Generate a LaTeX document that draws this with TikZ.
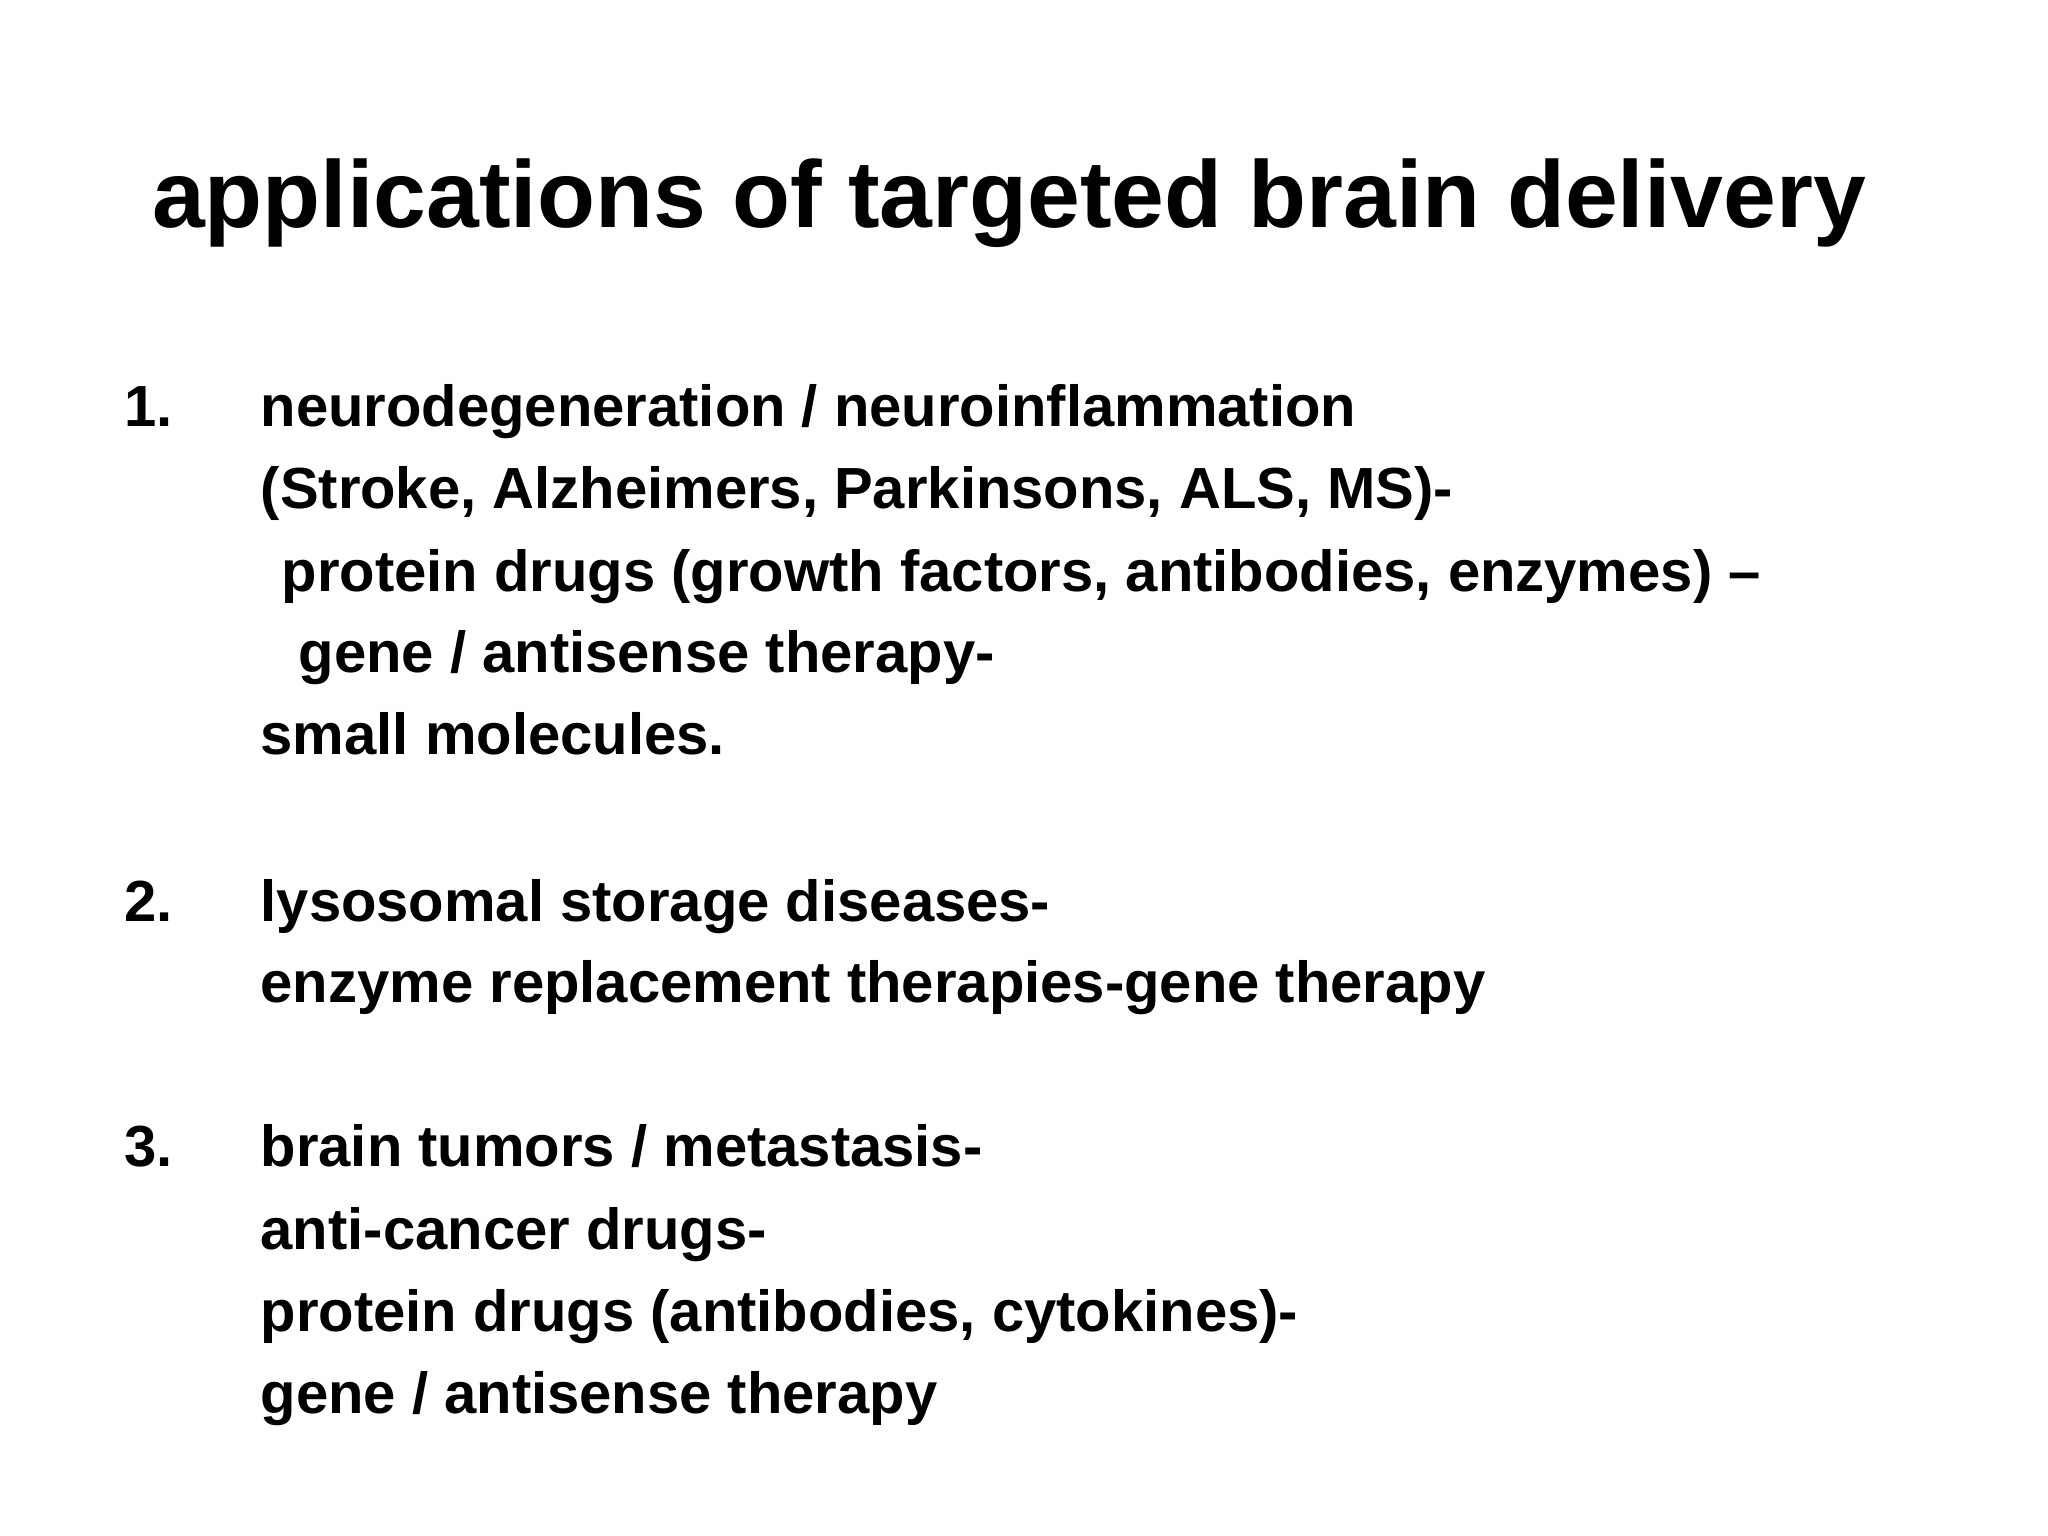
\documentclass[tikz,border=0pt]{standalone}
\usepackage{fontspec}
\setmainfont{Liberation Sans}
\begin{document}
\begin{tikzpicture}[x=1cm,y=1cm,
  ln/.style={anchor=base west,inner sep=0pt,font=\fontsize{16.5}{20}\selectfont\bfseries},
  ttl/.style={anchor=base,inner sep=0pt,font=\fontsize{27}{32}\selectfont\bfseries}]
\useasboundingbox[fill=white] (0,0) rectangle (20.48,-15.36);
\node[ttl] (t) at (10.09,-2.28) {applications of targeted brain delivery};
\node[ln] (n1) at (1.24,-4.27) {1.};
\node[ln] (a1) at (2.60,-4.27) {neurodegeneration / neuroinflammation};
\node[ln] (a2) at (2.60,-5.09) {(Stroke, Alzheimers, Parkinsons, ALS, MS)-};
\node[ln] (a3) at (2.81,-5.92) {protein drugs (growth factors, antibodies, enzymes) –};
\node[ln] (a4) at (2.98,-6.73) {gene / antisense therapy-};
\node[ln] (a5) at (2.60,-7.55) {small molecules.};
\node[ln] (n2) at (1.24,-9.21) {2.};
\node[ln] (b1) at (2.60,-9.21) {lysosomal storage diseases-};
\node[ln] (b2) at (2.60,-10.03) {enzyme replacement therapies-gene therapy};
\node[ln] (n3) at (1.24,-11.66) {3.};
\node[ln] (c1) at (2.60,-11.66) {brain tumors / metastasis-};
\node[ln] (c2) at (2.60,-12.49) {anti-cancer drugs-};
\node[ln] (c3) at (2.60,-13.31) {protein drugs (antibodies, cytokines)-};
\node[ln] (c4) at (2.60,-14.13) {gene / antisense therapy};
\end{tikzpicture}
\end{document}
